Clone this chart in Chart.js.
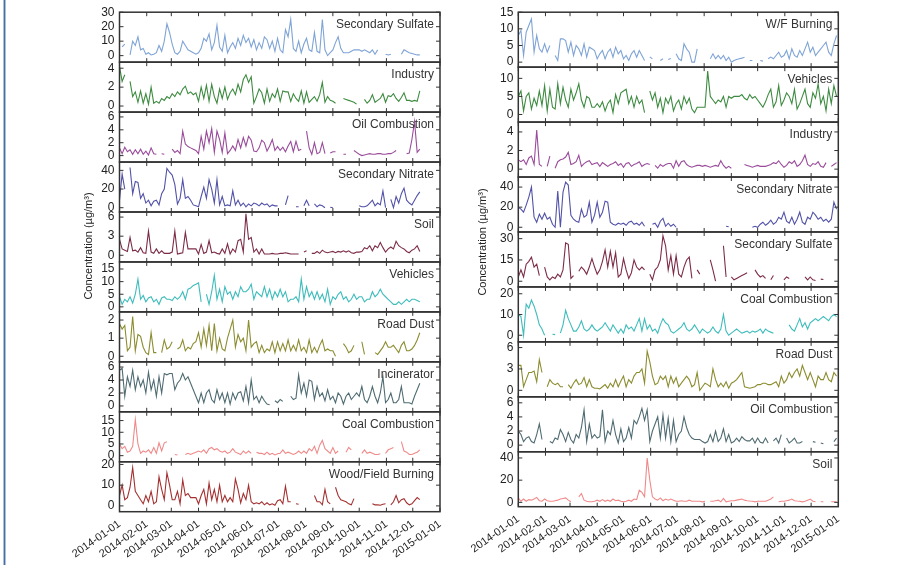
<!DOCTYPE html>
<html>
<head>
<meta charset="utf-8">
<script src="https://cdn.jsdelivr.net/npm/chart.js@4.4.1/dist/chart.umd.min.js"></script>
<style>
    body { margin: 0; background: #fff; }
    #wrap { position: relative; width: 902px; height: 565px; overflow: hidden; background: #fff; }
    #leftChart { position: absolute; left: 0; top: 0; }
    #rightChart { position: absolute; left: 460px; top: 0; }
    .edge { position: absolute; left: 3px; top: 0; width: 3px; height: 565px; background: #a9bfe0; }
    .edge i { position: absolute; left: 1px; top: 0; width: 1px; height: 100%; background: #4e6c9c; }
</style>
</head>
<body>
<div id="wrap">
    <div class="edge"><i></i></div>
    <canvas id="leftChart" width="460" height="565"></canvas>
    <canvas id="rightChart" width="442" height="565"></canvas>
</div>
<script>
// --- Data ---

// sampling days (day of year 2014, one sample every 3 days)
const sampleDays = [
    0,3,6,9,12,15,18,21,24,27, 30,33,36,39,42,45,48,51,54,57,
    60,63,66,69,72,75,78,81,84,87, 90,93,96,99,102,105,108,111,114,117,
    120,123,126,129,132,135,138,141,144,147, 150,153,156,159,162,165,168,171,174,177,
    180,183,186,189,192,195,198,201,204,207, 210,213,216,219,222,225,228,231,234,237,
    240,243,246,249,252,255,258,261,264,267, 270,273,276,279,282,285,288,291,294,297,
    300,303,306,309,312,315,318,321,324,327, 330,333,336,339,342,345,348,351,354,357,
    360,363
];

// x tick positions (day of year) and labels
const monthDays = [0, 31, 59, 90, 120, 151, 181, 212, 243, 273, 304, 334, 365];
const monthLabels = ['2014-01-01','2014-02-01','2014-03-01','2014-04-01','2014-05-01','2014-06-01',
    '2014-07-01','2014-08-01','2014-09-01','2014-10-01','2014-11-01','2014-12-01','2015-01-01'];

// left column
const leftNames = ['Secondary Sulfate','Industry','Oil Combustion','Secondary Nitrate','Soil',
    'Vehicles','Road Dust','Incinerator','Coal Combustion','Wood/Field Burning'];
const leftTicks = [[0,10,20,30],[0,2,4],[0,2,4,6],[0,20,40],[0,3,6],[0,5,10,15],[0,1,2],[0,2,4,6],[0,5,10,15],[0,10,20]];

const lSecSulfate = [null,6,8,null,0.5,10,7,13,4,5, 1,2,0.5,1,2,7,3,10,22,16, 8,2,1,3,10,7,4,3,2,1,
    2,5,12,10,15,4,9,21,6,3, 14,2,6,9,5,12,7,14,9,12, 6,11,4,9,5,13,11,5,10,3,
    12,4,2,18,13,25,5,3,10,2, 8,12,4,3,16,3,2,25,4,0, 2,4,9,13,5,2,2,2,3,4,
    4,4,3,4,3,2,4,1,4,null, null,1,0.5,1,null,null,null,1,4,3, 2,1.5,1,0.5,0.5];
const lIndustry = [4.2,2.6,3.3,null,2.6,1.0,1.5,0.4,1.6,0.3, 1.3,0.2,2.0,0.3,0.5,0.3,0.8,0.6,1.0,0.8,
    1.3,1.0,1.5,1.2,1.8,2.1,1.3,1.5,1.2,1.4, 0.5,2.0,0.8,2.2,0.5,2.3,1.0,0.3,1.8,0.8,
    2.0,0.7,1.4,1.8,1.2,2.3,1.5,2.8,3.3,2.5, 3.1,0.3,1.0,1.8,1.4,0.3,1.8,0.5,1.3,0.9,
    1.8,0.5,1.6,1.5,1.5,0.5,1.3,0.8,0.5,1.6, 0.3,1.5,0.4,0.7,1.0,0.5,1.2,2.5,0.4,1.0,
    0.6,0.5,0.3,null,null,0.8,0.7,0.6,0.5,0.4, 0.2,null,null,0.7,0.3,0.6,1.2,0.4,0.6,0.8,
    1.3,0.4,1.1,1.0,1.3,0.8,0.5,0.9,1.4,0.6, 0.6,0.5,0.6,0.5,1.6];
const lOilComb = [1.2,0.3,1.3,0.6,0.9,0.2,0.9,0.3,1.0,0.2, 0.7,0.1,1.2,0.3,0.2,null,0.3,0.2,null,null,
    1.0,0.5,0.8,0.3,3.8,1.8,1.4,1.2,1.0,0.8, 0.3,3.0,1.0,3.8,2.0,4.2,0.5,3.8,2.5,0.5,
    3.5,0.3,0.8,1.5,0.8,2.5,1.2,2.8,1.5,3.0, 2.4,0.7,0.6,1.2,2.4,2.0,0.7,1.5,2.5,0.8,
    1.4,0.8,1.3,0.6,1.5,2.2,0.6,2.2,0.8,1.0, null,3.8,1.2,0.2,2.0,0.3,0.5,2.0,0.3,null,
    0.4,0.6,0.6,null,null,0.2,0.2,null,null,0.8, 0.5,0.2,0.0,0.1,0.2,0.3,0.2,0.2,0.3,0.3,
    0.2,0.2,0.3,0.3,0.5,0.8,null,null,null,0.3, 0.4,2.5,5.3,0.5,1.0];
const lSecNitrate = [8,36,20,null,43,15,28,27,10,15, 5,8,2,7,8,3,15,20,42,38, 35,25,4,10,30,10,12,8,3,2,
    1,12,22,10,30,20,5,30,3,12, 2,3,2,18,3,8,2,5,1,4, 2,5,4,2,5,3,4,1,3,2,
    2,null,null,3,13,null,null,1,1,null, 2,8,2,null,4,1,3,2,0,null, 0.5,0,null,null,null,null,null,null,null,null,
    null,2,1,1,2,5,8,2,5,3, 18,0,null,9,0,12,5,15,21,8, 5,3,8,13,17];
const lSoil = [2.5,1.0,0.8,0.6,2.8,0.7,0.8,0.5,1.2,0.4, 0.3,3.8,0.5,0.3,1.0,0.3,0.7,0.3,0.3,0.3,
    0.5,3.8,0.2,0.3,0.4,3.6,1.0,1.0,1.0,1.0, 0.2,1.7,0.3,0.5,2.3,0.4,0.5,0.3,0.2,1.0,
    0.3,1.8,0.2,1.0,0.5,2.3,2.5,0.5,6.5,2.5, 2.8,0.5,1.0,0.2,1.0,0.2,0.2,0.2,0.3,0.2,
    0.2,0.3,0.3,0.4,0.3,0.2,0.2,0.2,0.2,null, 0.5,0.7,null,0.3,0.3,0.6,0.3,0.8,0.5,0.4,
    0.5,0.6,0.4,0.6,0.5,0.7,0.5,0.7,0.4,0.3, 0.5,0.5,0.6,1.2,1.0,1.5,0.7,1.5,1.2,2.0,
    1.2,0.5,1.0,1.3,1.0,2.2,1.5,1.2,1.0,0.6, 0.4,0.8,1.0,1.5,0.6];
const lVehicles = [4,1,3,2,4,1.5,5,11,3,4.5, 2,3.5,4,2,3,1,3.5,4,3,3, 2.5,4,3,4,6,3,7,7.5,8.5,9,
    9.5,2,null,5,1,6,12.5,3,7,2, 8,5,6,3,6,4,8,6,6,7, 9,3,6,5,4,8,4,7,3,6,
    4,7,4,6,2,3,3,4,2,11, 3,8,4,6,3,6,3,5,2,7, 1,4,3,5,6,3,4,2,3,5,
    3,4,4,2,3,3,6,4,5,7, 5,4,3,2,1,1,2,1,2,3, 2,3,3,2.5,2];
const lRoadDust = [1.8,1.5,1.7,0.3,0.5,2.2,0.3,1.2,1.1,0.5, 0.2,0.1,1.3,0.2,0.2,null,0.2,0.9,0.4,0.5,
    0.8,null,0.4,0.5,0.9,0.3,0.5,0.4,0.7,0.8, 1.3,0.5,1.5,0.6,1.7,0.3,1.8,0.3,1.0,0.4,
    0.3,1.0,1.5,2.0,0.5,1.2,0.8,1.0,0.3,2.0, 0.5,0.7,0.8,0.2,0.6,0.2,0.4,0.3,0.8,0.2,
    0.8,0.3,0.7,0.3,0.9,0.3,0.6,0.3,0.9,0.3, 0.5,0.2,0.9,0.2,0.5,0.2,0.6,0.9,0.3,0.4,
    0.3,0.3,0.0,null,null,0.7,0.5,0.2,0.3,0.6, null,null,0.8,0.1,null,null,null,0.2,0.1,0.3,
    0.5,0.8,0.5,0.5,0.6,0.4,0.2,0.6,0.8,0.3, 0.3,0.4,0.6,0.9,1.3];
const lIncinerator = [5.5,5.8,1.5,4.5,3.0,5.5,2.5,4.5,3.0,4.0, 2.0,5.2,2.5,4.0,1.5,4.5,2.0,5.0,4.8,5.0,
    5.0,2.5,3.5,4.0,5.0,4.0,4.5,3.5,2.5,1.5, 0.5,2.0,0.5,2.0,2.5,1.0,0.5,2.5,1.0,2.0,
    0.5,2.0,0.3,2.0,1.0,2.0,2.2,0.8,3.0,0.5, 4.0,1.0,1.5,0.5,1.5,0.8,0.3,0.2,null,0.8,
    0.5,1.0,0.7,null,null,1.5,1.0,1.2,4.8,2.0, 3.5,1.5,4.0,3.8,1.0,3.0,1.5,2.0,0.8,2.5,
    1.0,1.5,0.5,2.0,1.5,0.3,1.5,2.0,1.0,1.5, 2.0,1.5,3.0,1.0,0.5,1.5,3.0,1.5,0.5,2.0,
    4.5,0.5,1.0,2.0,0.5,0.5,1.0,3.0,0.5,0.5, 0.5,0.3,1.5,2.5,3.5];
const lCoalComb = [5,3,4,1.5,2,4,15.5,5,1,2, 1.5,2.5,1,3.5,1,5.5,2,5.5,6,null,
    null,0.5,0.3,null,null,0.5,1,0.5,1,1.5, 2,1.5,2.5,1,3,3.5,2.5,3,2,1.5,
    2,1,1.5,3,1.5,1,0.5,2,1,2, 1,null,1.5,1,1,0.5,1.5,0.5,1,0.3,
    0.8,1,2.5,1,1.5,1,0.5,1,2,1, 2,1,3,2,4,1,4.5,6.5,3,2,
    1,3.5,1,2,null,null,1.5,3.5,2.5,null, null,null,1,2.5,1,1.5,1,0.5,0.5,0.8,
    null,1,2.5,3,3.5,null,null,6,2,1.5, 0.5,0.5,1,1.5,2.5];
const lWoodField = [5,10,3,4,9,18.5,7,5,3,1, 5,2,7,1,2,14,8,3,16,10, 3,3,7,1,12.5,5,6,4,4,4,
    1,5,8,1,11,3,8,2,10,2, 5,2,4,2,13,8,1.5,6,3,10, 2,1,1.5,1,2,0.5,1.5,0.5,1,0.3,
    2.5,3,1,9.5,2,2,null,1,0.8,null, null,null,1,null,5,2,2,0.5,8,2, 1,null,9,5,3,2.5,2,1,0.5,3.5,
    null,null,null,null,null,null,1,0.5,0.5,0.3, 0.8,1,null,0.5,2,5,1.5,3,3.5,1.5, 0.5,1,2.5,4,3];

// right column
const rightNames = ['W/F Burning','Vehicles','Industry','Secondary Nitrate','Secondary Sulfate',
    'Coal Combustion','Road Dust','Oil Combustion','Soil'];
const rightTicks = [[0,5,10,15],[0,5,10],[0,2,4],[0,20,40],[0,15,30],[0,10,20],[0,3,6],[0,2,4,6],[0,20,40]];

const rWFBurning = [8,9.5,2,9,11,13,3,8,4,3, 5.5,3,5,null,2,0.5,7,7,6.5,3, 6,2,5,4,2,5.5,1.5,4.5,4,3.5,
    1,2.5,3.5,1,3,4,1.5,4.5,2.5,3.5, 1,2,0.5,2.5,3.5,1.5,3.5,2,0.5,null, 1.6,1.0,null,null,0.5,1,null,0.8,1.1,null,
    2.5,1,0.5,5.5,4,3,0,0,4,null, null,null,null,1,2.5,1,2,1,2,0.5, 1.5,0,0.5,0.8,1,1.2,1.5,null,0.5,0.5,
    null,null,0.5,0.3,null,1,1.5,1,2,3, 1.5,2,3.5,1,4,2,1.5,3.5,2,4, 6,3,4.5,2,3,4,5,6,3,2, 5.5,8];
const rVehicles = [5,6.5,1,5,6,1.5,4.5,2.5,6.5,2.5, 8,1,7,2,1.5,8.5,3,7.5,4,2, 7,4,6,8.5,4,2,5,4.5,2,2,
    3,2,3.5,1,3,4,0.5,5.5,3,6, 6.5,7,3,5,2,5,3,4,0.5,null, 6.5,4,6,2,4.5,0.5,4.5,3,5,1,
    3,4,1.5,5,3,4.5,1.5,0.5,2,2, 2,2,12,5,4,3,4,3.5,5,2, 5,4.5,5,5,5,5.5,4.5,4,5.5,4.5,
    5,4,3,2,3.5,5.5,7,2,3.5,8, 2.5,4,6,5,3,7,1.5,3,5,7, 3,2,6,4.5,8.5,3,5,1,7,3, 8,5];
const rIndustry = [1,0.8,1,0.5,1.2,1.4,0.5,4.2,0.5,0.3, null,0.3,1.4,null,0.1,0.8,1,1.1,1.3,1.8,
    0.5,0.6,0.8,1.5,0.3,0.6,0.8,0.9,0.5,0.6, 0.7,0.3,0.7,0.5,0.3,0.5,0.6,0.8,0.4,0.6,
    0.2,0.6,0.7,0.3,0.5,0.6,0.8,0.3,0.5,0.6, 0.5,null,0.4,0.1,0.5,0.3,0.5,0.6,0.6,0.1,
    0.9,0.3,0.8,0.9,0.5,0.3,0.2,0.3,0.4,0.4, 0.3,0.4,0.3,0.2,0.3,0.4,0.3,0.9,0.4,0.1,
    0.3,0.1,null,null,null,null,0.5,0.4,0.3,0.2, 0.3,0.4,0.3,0.3,0.3,0.4,0.5,0.7,0.6,0.9,
    0.5,0.2,0.4,0.8,0.6,0.9,0.3,0.5,0.9,1.5, 0.5,0.3,0.6,0.5,0.8,0.3,0.2,0.7,null,0.3, 0.5,0.7];
const rSecNitrate = [20,18,15,22,30,40,10,5,13,8, 14,8,10,3,0,36,0,35,45,42, 12,8,6,5,18,10,12,25,5,12,
    25,10,15,26,25,5,3,2,4,3, 4,2,5,6,3,4,2,5,1,null, null,3,4,0,6,9,1,4,1,3,
    0,null,null,null,null,null,null,null,null,null, null,null,null,null,null,null,null,null,null,1,
    0.5,null,null,null,null,null,null,null,null,0, 1,0,3,5,2,4,7,3,5,10, 8,15,6,4,10,3,8,15,5,3,
    10,8,15,12,8,10,6,8,5,8, 25,18];
const rSecSulfate = [3,8,3,12,14,17,10,12,4,null, 10,3,1,3,2,5,3,8,27,26, 2,4,null,7,10,8,5,10,16,10,
    5,8,14,22,10,21,10,20,3,5, 16,8,2,6,15,10,8,10,8,null, 5,1,8,10,15,32,25,8,18,5,
    18,5,3,10,15,17,2,null,8,5, null,null,null,15,8,0,null,null,25,3, null,3,1,2,3,4,5,6,null,null,
    8,5,3,4,2,null,1,4,null,null, null,1,3,2,null,null,null,null,null,3, 1,3,1,0.5,null,1.5,1.2,null,null,null,
    null,null];
const rCoalComb = [10,9,0,15,13,17,14,10,5,3, 0,null,null,0.5,0.3,null,1,5,12,8, 5,2,2,4,7,3,2,3,5,3,
    2,3,4,6,4,2,5,3,1,3, 1,5,3,4,2,5,8,2,8,3, 5,2,3,1,5,8,6,5,2,1,
    2,3,4,6,3,2,3,5,3,1, 3,2,1,2,4,2,1,3,10,2, 0,1,2,3,2,1,1.5,2,1,2,
    1.5,2,3,1,3,2,1.5,1,null,null, null,null,null,5,3,2,5,8,4,6, 3,6,7,8,7,8,9,8,7,9, 10,9];
const rRoadDust = [3.5,3.5,0.5,1.5,2.5,2.5,2.7,1.2,4.3,2.5, null,0.5,1.5,1,0.8,1,0.5,0.5,null,0.8,
    0.3,1,1.5,0.8,1,1.8,0.5,1.5,0.5,0.3, 0.3,0.2,0.5,0.8,0.3,1,0.5,1.5,0.5,1.3,
    2,0.5,1.5,1,2,2.5,2.5,3,1,5.5, 4,2,0.8,1,2,1.5,2,0.5,2,1,
    1.8,0.5,1,1.5,2,1.5,0.5,0.8,2.5,0, 0.5,1,0.8,0.5,3,1.5,0.5,1,0.5,1.2,
    0.3,1,1.2,1.5,2,2.5,0.5,0.4,0.3,0.4, 0.5,0.8,0.8,1,1,0.8,0.8,1,1.2,0.5,
    2,1,1.5,2.5,1.8,2.5,3,2,3.5,2.5, 1.5,2.5,1.5,0.5,2,1.5,1.5,2.5,1.5,1.2, 2.5,2];
const rOilComb = [2,1.5,0.5,1,1.2,0.5,0.3,1.5,3,0.8, null,null,0.5,0.3,1,0.8,2.2,1.5,0.5,1.8,
    0.8,0.3,1.5,1,2.5,5,0.5,3,1,1.5, 1,1.2,5,0.5,2,1.5,3.5,1.5,0.3,2.3,
    0.5,1,2.5,1,3.5,3,4,5.2,3.5,5, 0.5,2,3,4,1,4.3,1,3.8,0.5,3.5,
    0.5,1.5,2,4,2.5,1.5,1,0.8,0.8,0.8, 0.5,0.3,0.5,1.5,0.5,2,0.5,1,2.3,0.5,
    1.5,0.3,0.5,1,0.5,1.2,0.8,0.6,0.6,1, 0.3,1,0.4,0.3,1,0.3,null,0.6,1,0.3,
    1.5,null,1,0.3,0.6,1,0.3,0.3,0.5,null, null,null,0.5,0.4,null,0.3,0.2,null,null,null, 0.5,1];
const rSoil = [4,1,3,1,2.5,2,3,4.5,1.5,1, 3,1.5,1,1,1.5,2,3,3.5,4,2, 0.5,null,null,5,8,2,1,0.5,0.5,1,
    2,1,2.5,1,2,1,3,1.5,2,1, 0.5,1,2,1,3,2.5,11,9,5,40, 20,5,3,2,4,1.5,3,2,3,2,
    1,1,1.5,1,1,2,1,1,1,1, 0.5,1,null,1,1,1.5,2,0.5,3.5,0.5, 1,1.5,1.5,2,2.5,3,2,1.5,1.2,1,
    0.5,1,1,1,1,2,3,5,null,0.5, 1,1,1.5,2,3,1.5,1.2,1,0.5,1, 2,3,1,0.5,null,0.5,0.5,null,null,0.5, 0.5,0.5];

// --- Styling ---

const palette = ['#7fa4d6','#3d8b40','#9a4c9b','#5252a8','#7d2c47','#3fbcbc','#8c8c30','#4f6b72','#f08a8a','#a43131'];
const FONT = "'Liberation Sans', Arial, sans-serif";
Chart.defaults.font.family = FONT;
Chart.defaults.color = '#222';

// frames, inward ticks, panel names and the y title
const panelPlugin = {
    id: 'panels',
    afterDatasetsDraw(chart, args, opts) {
        const { ctx, chartArea: ca, scales } = chart;
        const xs = scales.x;
        ctx.save();
        opts.names.forEach((name, i) => {
            const s = scales['y' + i];
            ctx.strokeStyle = '#333';
            ctx.lineWidth = 1.5;
            ctx.strokeRect(ca.left, s.top, ca.right - ca.left, s.bottom - s.top);
            ctx.lineWidth = 1;
            ctx.beginPath();
            s.ticks.forEach(t => {
                const py = s.getPixelForValue(t.value);
                ctx.moveTo(ca.left, py); ctx.lineTo(ca.left + 4, py);
                ctx.moveTo(ca.right, py); ctx.lineTo(ca.right - 4, py);
            });
            xs.ticks.forEach(t => {
                const px = xs.getPixelForValue(t.value);
                ctx.moveTo(px, s.top); ctx.lineTo(px, s.top + 4);
                ctx.moveTo(px, s.bottom); ctx.lineTo(px, s.bottom - 4);
            });
            ctx.stroke();
            ctx.fillStyle = '#333';
            ctx.font = '12px ' + FONT;
            ctx.textAlign = 'right';
            ctx.textBaseline = 'middle';
            ctx.fillText(name, ca.right - 6, s.top + 12.5);
        });
        ctx.translate(opts.titleX, opts.titleY);
        ctx.rotate(-Math.PI / 2);
        ctx.font = '11px ' + FONT;
        ctx.fillStyle = '#222';
        ctx.textAlign = 'center';
        ctx.textBaseline = 'middle';
        ctx.fillText('Concentration (µg/m³)', 0, 0);
        ctx.restore();
    }
};

function buildChart(canvasId, names, series, ticks, ranges, cfg) {
    const n = names.length;
    const scales = {
        x: {
            type: 'linear', min: 0, max: 365,
            afterBuildTicks: s => { s.ticks = monthDays.map(v => ({ value: v })); },
            ticks: {
                autoSkip: false, minRotation: 35, maxRotation: 35, padding: cfg.xPad,
                font: { size: 11 }, color: '#222',
                callback: (v, i) => monthLabels[i]
            },
            grid: { display: false, drawTicks: false },
            border: { display: false },
            afterFit: s => { s.height = cfg.xHeight; }
        }
    };
    names.forEach((name, i) => {
        scales['y' + i] = {
            type: 'linear', position: 'left', stack: 'col', stackWeight: 1, weight: n - i,
            min: ranges[i][0], max: ranges[i][1],
            afterBuildTicks: s => { s.ticks = ticks[i].map(v => ({ value: v })); },
            ticks: { autoSkip: false, padding: 5, font: { size: 12 }, color: '#222' },
            grid: { display: false, drawTicks: false },
            border: { display: false },
            afterFit: s => { s.width = 45; }
        };
    });

    const datasets = series.map((vals, i) => ({
        data: sampleDays.map((d, j) => ({ x: d, y: vals[j] ?? null })),
        yAxisID: 'y' + i,
        borderColor: palette[i],
        borderWidth: 1.1,
        pointRadius: 0,
        tension: 0,
        spanGaps: false
    }));

    return new Chart(document.getElementById(canvasId), {
        type: 'line',
        data: { datasets },
        options: {
            responsive: false,
            animation: false,
            layout: { padding: cfg.padding },
            scales,
            plugins: {
                legend: { display: false },
                tooltip: { enabled: false },
                panels: { names, titleX: cfg.titleX, titleY: cfg.titleY }
            }
        },
        plugins: [panelPlugin]
    });
}

// y ranges: [min, max] for each panel
const leftRanges = [[-4.5,30],[-0.64,4.64],[-1.0,6.75],[-4.6,48.9],[-1.05,6.8],[-2,17.8],[-0.31,2.45],[-0.9,6.8],[-2.6,18.75],[-2.8,21.3]];
const rightRanges = [[-1.5,15],[-2.1,13.1],[-0.85,5.06],[-4.7,50],[-4,34.7],[-3.2,23.3],[-0.91,6.8],[-0.94,6.85],[-3.9,45.6]];

buildChart('leftChart', leftNames,
    [lSecSulfate, lIndustry, lOilComb, lSecNitrate, lSoil, lVehicles, lRoadDust, lIncinerator, lCoalComb, lWoodField],
    leftTicks, leftRanges,
    { padding: { left: 74.5, right: 20, top: 7.3, bottom: 0 }, xHeight: 53.3, xPad: 6, titleX: 89, titleY: 246 });

buildChart('rightChart', rightNames,
    [rWFBurning, rVehicles, rIndustry, rSecNitrate, rSecSulfate, rCoalComb, rRoadDust, rOilComb, rSoil],
    rightTicks, rightRanges,
    { padding: { left: 13.3, right: 63.7, top: 9.3, bottom: 0 }, xHeight: 58.3, xPad: 6, titleX: 23, titleY: 242 });
</script>
</body>
</html>
